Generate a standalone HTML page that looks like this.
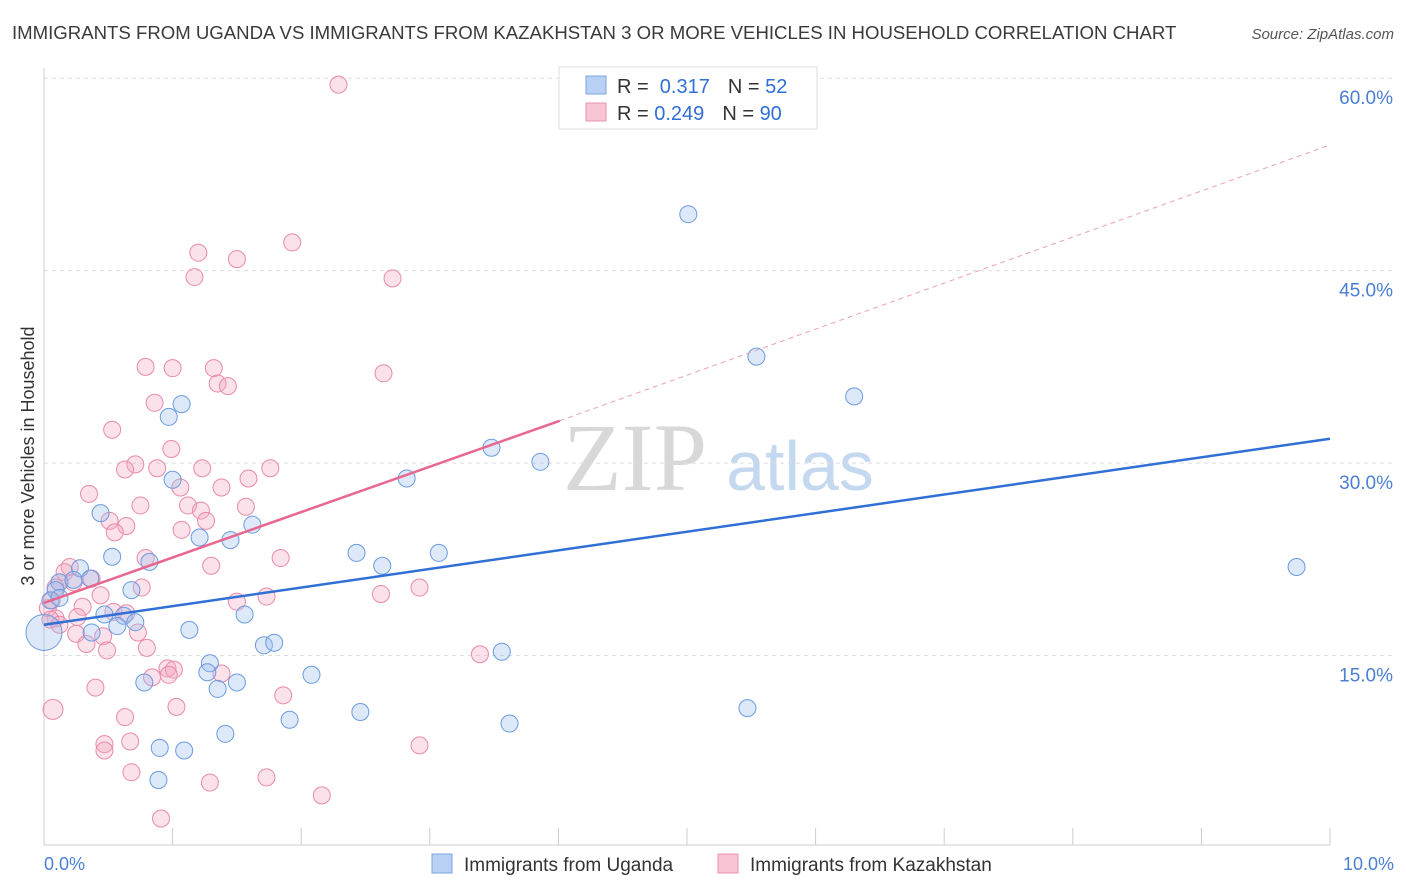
<!DOCTYPE html>
<html><head><meta charset="utf-8"><style>
body{margin:0;background:#fff;font-family:"Liberation Sans",sans-serif;}
#wrap{position:relative;width:1406px;height:892px;overflow:hidden;}
</style></head><body>
<div id="wrap">
<svg id="svg" width="1406" height="892" xmlns="http://www.w3.org/2000/svg">
<text x="12" y="39" font-size="18.6" fill="#3a3a3a">IMMIGRANTS FROM UGANDA VS IMMIGRANTS FROM KAZAKHSTAN 3 OR MORE VEHICLES IN HOUSEHOLD CORRELATION CHART</text>
<text x="1394" y="39" font-size="15" fill="#555" font-style="italic" text-anchor="end">Source: ZipAtlas.com</text>
<text x="635" y="490" font-size="96" fill="#d8d8d8" font-family="Liberation Serif,serif" text-anchor="middle">ZIP</text>
<text x="800" y="490" font-size="70" fill="#c4d8f0" text-anchor="middle">atlas</text>
<g id="grid"></g><g id="pts"></g><g id="lines"></g>
<text transform="translate(34,456) rotate(-90)" font-size="18" fill="#333" text-anchor="middle">3 or more Vehicles in Household</text>
<text x="44" y="870" font-size="18" fill="#4a7fd4">0.0%</text>
<text x="1394" y="870" font-size="18" fill="#4a7fd4" text-anchor="end">10.0%</text>
<g>
<rect x="559" y="67" width="258" height="62" fill="#fff" stroke="#ddd"/>
<rect x="586" y="76" width="20" height="18" fill="#b8d0f4" stroke="#7aa6e0"/>
<rect x="586" y="103" width="20" height="18" fill="#f9c4d3" stroke="#ea93b0"/>
<text x="617" y="93" font-size="20" fill="#333">R = <tspan fill="#2f6fd6">&#160;0.317</tspan><tspan dx="18">N = </tspan><tspan fill="#2f6fd6"> 52</tspan></text>
<text x="617" y="120" font-size="20" fill="#333">R = <tspan fill="#2f6fd6">0.249</tspan><tspan dx="18">N = </tspan><tspan fill="#2f6fd6"> 90</tspan></text>
</g>
<g>
<rect x="432" y="854" width="20" height="19" fill="#b8d0f4" stroke="#7aa6e0"/>
<text x="464" y="871" font-size="19" fill="#333">Immigrants from Uganda</text>
<rect x="718" y="854" width="20" height="19" fill="#f9c4d3" stroke="#ea93b0"/>
<text x="750" y="871" font-size="19" fill="#333">Immigrants from Kazakhstan</text>
</g>
</svg>
</div>
<script>
const yTicks=[15,30,45,60];
const xTicks=[0,1,2,3,4,5,6,7,8,9,10];
const blueX=[5.01,5.54,6.30,9.74,3.48,3.86,2.82,1.07,0.97,1.00,0.44,0.53,1.62,1.21,1.45,0.82,0.28,0.36,0.12,0.23,0.68,0.09,0.05,0.47,0.62,0.57,0.71,0.37,1.13,1.56,2.43,2.63,3.07,1.29,1.27,1.50,1.35,1.71,1.79,2.08,0.78,3.56,2.46,1.91,1.41,0.90,1.09,0.89,3.62,5.47,0.12];
const blueY=[49.4,38.3,35.2,21.9,31.2,30.1,28.8,34.6,33.6,28.7,26.1,22.7,25.2,24.2,24.0,22.3,21.8,21.0,20.7,20.9,20.1,20.1,19.3,18.2,18.1,17.3,17.6,16.8,17.0,18.2,23.0,22.0,23.0,14.4,13.7,12.9,12.4,15.8,16.0,13.5,12.9,15.3,10.6,10.0,8.9,7.8,7.6,5.3,9.7,10.9,19.5];
const pinkX=[2.29,1.93,1.20,1.50,1.17,2.71,0.79,1.00,1.32,1.35,1.43,2.64,0.86,0.53,0.99,0.71,0.63,0.88,1.23,1.76,1.06,1.38,0.35,0.75,1.12,1.22,1.57,1.59,0.51,0.64,1.26,1.07,0.55,0.79,1.84,1.30,0.20,0.16,0.12,0.37,0.09,0.23,0.76,0.44,0.54,0.30,0.64,0.03,0.09,0.26,1.50,1.73,2.62,2.92,0.73,0.46,0.25,0.33,0.80,0.49,0.96,1.01,1.38,0.97,0.84,3.39,0.40,1.86,1.03,0.63,0.47,0.47,0.67,0.68,1.73,1.29,2.16,2.92,0.91,0.05,0.12,0.06];
const pinkY=[59.5,47.2,46.4,45.9,44.5,44.4,37.5,37.4,37.4,36.2,36.0,37.0,34.7,32.6,31.1,29.9,29.5,29.6,29.6,29.6,28.1,28.1,27.6,26.7,26.7,26.3,26.6,28.8,25.5,25.1,25.5,24.8,24.6,22.6,22.6,22.0,21.9,21.5,20.7,21.0,20.3,20.7,20.3,19.7,18.4,18.8,18.3,18.7,17.9,18.0,19.2,19.6,19.8,20.3,16.8,16.5,16.7,15.9,15.6,15.4,14.0,13.9,13.6,13.5,13.3,15.1,12.5,11.9,11.0,10.2,8.1,7.6,8.3,5.9,5.5,5.1,4.1,8.0,2.3,17.8,17.4,19.3];
const bigBlue=[0.0,16.8];
const bigPink=[0.07,10.8];
const blueLine=[17.4,31.9];
const pinkLine=[19.1,33.3,54.8];
const pinkSolidEnd=4.01;

const NS="http://www.w3.org/2000/svg";
const sx=v=>44+v*128.6;
const sy=v=>848-v*12.83;
function mk(tag,attrs,parent){const e=document.createElementNS(NS,tag);for(const k in attrs)e.setAttribute(k,attrs[k]);parent.appendChild(e);return e;}
const grid=document.getElementById('grid'),pts=document.getElementById('pts'),lines=document.getElementById('lines');
yTicks.forEach(t=>{
  const l=mk('line',{x1:44,x2:1394,y1:sy(t),y2:sy(t),stroke:'#dcdcdc','stroke-dasharray':'4,4'},grid);
  
  
  const tx=mk('text',{x:1393,y:sy(t)+26,'font-size':19,fill:'#4a7fd4','text-anchor':'end'},grid);
  tx.textContent=t.toFixed(1)+'%';
  
  
});
const ax=mk('line',{x1:44,x2:1330,y1:845,y2:845,stroke:'#ccc'},grid);


const ay=mk('line',{x1:44,x2:44,y1:68,y2:845,stroke:'#ccc'},grid);


xTicks.forEach(t=>{
  const l=mk('line',{x1:sx(t),x2:sx(t),y1:828,y2:845,stroke:'#ccc'},grid);
  
  
});
function dot(x,y,r,fill,stroke,name){
  const c=mk('circle',{cx:sx(x),cy:sy(y),r:r,fill:fill,'fill-opacity':0.35,stroke:stroke,'stroke-width':1},pts);
  
  
}
pinkX.forEach((x,i)=>dot(x,pinkY[i],8.5,'#f4a9bf','#e98aab','kazakhstan-point'));
dot(bigPink[0],bigPink[1],10,'#f4a9bf','#e98aab','kazakhstan-point');
blueX.forEach((x,i)=>dot(x,blueY[i],8.5,'#9fc0ee','#6b9be0','uganda-point'));
dot(bigBlue[0],bigBlue[1],18,'#9fc0ee','#6b9be0','uganda-point');
const bl=mk('line',{x1:sx(0),y1:sy(blueLine[0]),x2:sx(10),y2:sy(blueLine[1]),stroke:'#2f6fd6','stroke-width':2.5},lines);


const pl=mk('line',{x1:sx(0),y1:sy(pinkLine[0]),x2:sx(pinkSolidEnd),y2:sy(pinkLine[1]),stroke:'#e8668f','stroke-width':2.5},lines);


const pd=mk('line',{x1:sx(pinkSolidEnd),y1:sy(pinkLine[1]),x2:sx(10),y2:sy(pinkLine[2]),stroke:'#eaa0b8','stroke-width':1,'stroke-dasharray':'5,4'},lines);


</script>
</body></html>
